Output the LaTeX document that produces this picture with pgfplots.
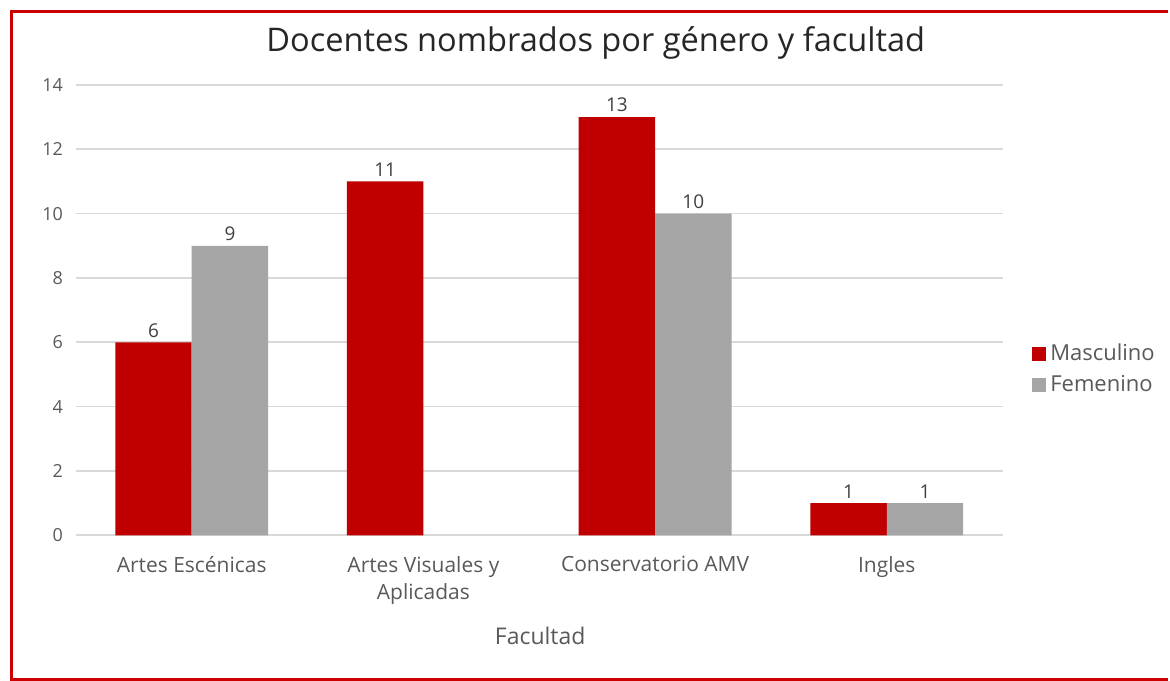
\documentclass[border=0pt]{standalone}
\usepackage{fontspec}
\setmainfont{Open Sans}
\usepackage{pgfplots}
\pgfplotsset{compat=1.18}

\definecolor{masc}{HTML}{C00000}
\definecolor{fem}{HTML}{A5A5A5}
\definecolor{txt}{HTML}{595959}
\definecolor{gridc}{HTML}{D9D9D9}
\definecolor{frame}{HTML}{CC0000}

\begin{document}
\begin{tikzpicture}
\begin{axis}[
    scale only axis,
    width=464pt, height=225.5pt,
    ybar=0pt, bar width=0.33,
    xmin=-0.5, xmax=3.5, ymin=0, ymax=14,
    enlargelimits=false,
    xtick={0,1,2,3},
    xticklabels={Artes Escénicas, {Artes Visuales y\\Aplicadas}, Conservatorio AMV, Ingles},
    x tick label style={align=center, font=\fontsize{10.5}{13.5}\selectfont, text=txt},
    ytick={0,2,...,14},
    y tick label style={font=\fontsize{9}{11}\selectfont, text=txt},
    /pgf/number format/assume math mode=true,
    major tick length=0pt,
    axis line style={draw=none},
    ymajorgrids, grid style={gridc, line width=0.8pt},
    xticklabel style={yshift=-7pt},
    yticklabel style={xshift=-3pt},
    xlabel={Facultad},
    xlabel style={font=\fontsize{11.5}{13}\selectfont, text=txt, at={(rel axis cs:0.501,-0.224)}, anchor=center},
    title={Docentes nombrados por género y facultad},
    title style={font=\fontsize{16.3}{19}\selectfont, text=black!85, at={(rel axis cs:0.561,1.067)}, anchor=center},
    nodes near coords,
    every node near coord/.append style={font=\fontsize{9.5}{11}\selectfont, text=black!75, yshift=-1pt},
    legend style={draw=none, at={(rel axis cs:1.025,0.368)}, anchor=west,
        font=\fontsize{11}{13}\selectfont, text=txt, row sep=2pt},
    legend cell align=left,
    legend image code/.code={\fill[#1] (0cm,-0.125cm) rectangle (0.25cm,0.125cm);},
    clip=false,
]
\addplot[fill=masc, draw=none] coordinates {(0,6) (1,11) (2,13) (3,1)};
\addplot[fill=fem, draw=none] coordinates {(0,9) (2,10) (3,1)};
\legend{Masculino, Femenino}
% frame around the chart
\path (rel axis cs:-0.0819,-0.3215) rectangle (rel axis cs:1.1789,1.1885);
\draw[frame, line width=1.6pt] (rel axis cs:1.1789,1.163) -- (rel axis cs:-0.0697,1.163)
    -- (rel axis cs:-0.0697,-0.3193) -- (rel axis cs:1.1789,-0.3193);
\end{axis}
\end{tikzpicture}
\end{document}
